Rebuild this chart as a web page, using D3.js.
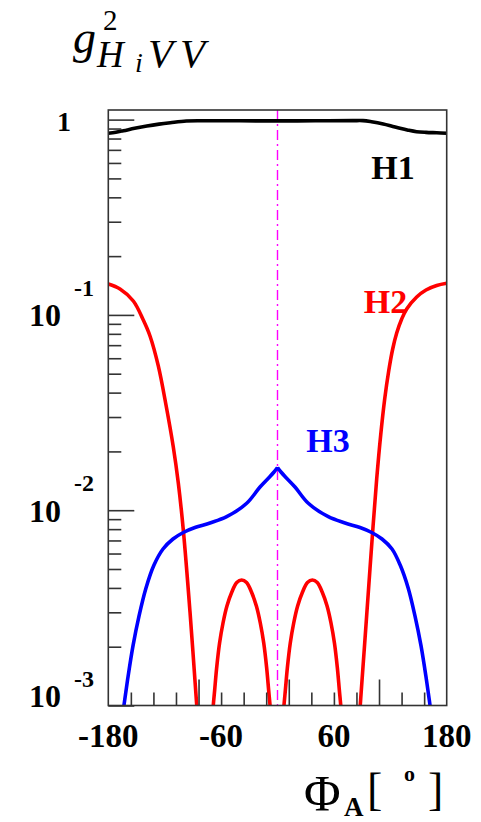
<!DOCTYPE html>
<html>
<head>
<meta charset="utf-8">
<script src="https://cdn.jsdelivr.net/npm/d3@7"></script>
<style>
  html, body { margin: 0; padding: 0; background: #fff; }
  svg { display: block; }
  text { font-family: "Liberation Serif", "Times New Roman", serif; }
</style>
</head>
<body>
<svg id="chart" width="481" height="822"></svg>
<script>
// Squared couplings g^2(Hi VV) versus the CP phase Phi_A (degrees).
// A null entry breaks a curve (zero crossings and the cusp of H3).

// H1 (black)
const phiH1 = [-180, -172, -164, -152, -139, -126, -114, -97, -80, -40, 0, 40, 80, 91, 100, 112.5, 121, 130.3, 139, 148, 158, 169.4, 180];
const gH1   = [0.852, 0.862, 0.877, 0.902, 0.927, 0.948, 0.964, 0.984, 0.987, 0.986, 0.985, 0.986, 0.988, 0.988, 0.975, 0.95, 0.928, 0.903, 0.883, 0.867, 0.86, 0.856, 0.852];

// H2 (red): outer branches and two inner lobes
const phiH2 = [-180, -167.55, -153.4, -142.77, -135.64, -126.81, -118.62, -110.85, -105.53, -100.21, -93.08, -85.96, -84.04, -82.45, null,
               -69.96, -68.29, -66.83, -64.74, -61.62, -57.96, -53.79, -48.57, -43.35, -38.13, -32.91, -27.69, -22.47, -18.3, -14.64, -11.52, -9.43, -7.97, -6.3, null,
               5.25, 6.92, 8.38, 10.47, 13.59, 17.25, 21.42, 26.64, 31.86, 37.08, 42.3, 47.52, 52.74, 56.91, 60.57, 63.69, 65.78, 67.24, 68.91, null,
               84.6, 86.17, 88.51, 92.77, 97.02, 101.28, 105.53, 109.79, 114.04, 118.3, 122.55, 126.81, 132.13, 137.45, 148.08, 157.98, 169.36, 180];
const gH2   = [0.1439, 0.1357, 0.1178, 0.0941, 0.078, 0.0548, 0.03457, 0.02107, 0.01378, 0.00792, 0.003012, 0.001006, 0.000749, 0.000578, null,
               0.000776, 0.001006, 0.0012, 0.001556, 0.002089, 0.002645, 0.003232, 0.003813, 0.004264, 0.004391, 0.004264, 0.003813, 0.003232, 0.002645, 0.002089, 0.001556, 0.0012, 0.001006, 0.000776, null,
               0.000776, 0.001006, 0.0012, 0.001556, 0.002089, 0.002645, 0.003232, 0.003813, 0.004264, 0.004391, 0.004264, 0.003813, 0.003232, 0.002645, 0.002089, 0.001556, 0.0012, 0.001006, 0.000776, null,
               0.000578, 0.000749, 0.00108, 0.002089, 0.004044, 0.00782, 0.01445, 0.02428, 0.0371, 0.0516, 0.0669, 0.0808, 0.0953, 0.1072, 0.1235, 0.1341, 0.1414, 0.1451];

// H3 (blue): two branches meeting in a cusp at Phi_A = 0
const phiH3 = [-169.68, -166.49, -163.3, -159.04, -153.73, -147.34, -139.89, -131.38, -121.81, -111.17, -100.21, -87.77, -71.81, -54.04, -32.77, -18.61, -7.97, -3.7, 0, null,
               0, 3.7, 7.97, 18.61, 32.77, 54.04, 71.81, 87.77, 100.21, 111.17, 121.81, 130.5, 139, 146.3, 152.7, 158, 162.2, 165.4, 168.6];
const gH3   = [0.000592, 0.000776, 0.001006, 0.0014, 0.00202, 0.00287, 0.004, 0.00524, 0.00633, 0.00712, 0.00769, 0.00815, 0.0086, 0.00926, 0.01085, 0.01315, 0.01488, 0.01569, 0.01654, null,
               0.01654, 0.01569, 0.01488, 0.01315, 0.01085, 0.00926, 0.0086, 0.00815, 0.00769, 0.00712, 0.00633, 0.00524, 0.004, 0.00287, 0.00202, 0.0014, 0.001006, 0.000776, 0.000592];

// Axis ticks and labels
const xTickValues  = [-156, -132, -108, -84, -60, -36, -12, 12, 36, 60, 84, 108, 132, 156];
const xLongTicks   = [-84, 12, 108];
const xLabelValues = [-180, -60, 60, 180];
const yMajorTicks  = [1, 0.1, 0.01, 0.001];
const yExponents   = ["", "-1", "-2", "-3"];
const yMinorTicks  = [0.9, 0.8, 0.7, 0.6, 0.5, 0.4, 0.3, 0.2,
                      0.09, 0.08, 0.07, 0.06, 0.05, 0.04, 0.03, 0.02,
                      0.009, 0.008, 0.007, 0.006, 0.005, 0.004, 0.003, 0.002];

const seriesNames  = ["H1", "H2", "H3"];
const seriesColors = ["#000000", "#ff0000", "#0000ff"];

const svg = d3.select("#chart");
const plotLeft = 108.3, plotRight = 446.7, plotTop = 110, plotBottom = 705.5;

const x = d3.scaleLinear().domain([-180, 180]).range([plotLeft, plotRight]);
const y = d3.scaleLog().domain([0.001, 1.12]).range([plotBottom, plotTop]);

svg.append("defs").append("clipPath").attr("id", "plotClip")
  .append("rect").attr("x", plotLeft).attr("y", plotTop)
  .attr("width", plotRight - plotLeft).attr("height", plotBottom - plotTop);

const axisColor = "#333";

// dash-dotted marker at Phi_A = 0
svg.append("line")
  .attr("x1", x(0)).attr("x2", x(0))
  .attr("y1", plotTop).attr("y2", plotBottom)
  .attr("stroke", "#ff00ff").attr("stroke-width", 1.4)
  .attr("stroke-dasharray", "10,4,2,4");

// curves
const line = d3.line()
  .defined(d => d[0] !== null && d[1] !== null)
  .x(d => x(d[0]))
  .y(d => y(d[1]))
  .curve(d3.curveCatmullRom.alpha(0.5));

const series = [
  d3.zip(phiH1, gH1),
  d3.zip(phiH2, gH2),
  d3.zip(phiH3, gH3)
];

const curves = svg.append("g").attr("clip-path", "url(#plotClip)");
series.forEach((s, i) => {
  curves.append("path")
    .datum(s)
    .attr("d", line)
    .attr("fill", "none")
    .attr("stroke", seriesColors[i])
    .attr("stroke-width", 3.6)
    .attr("stroke-linejoin", "round");
});

// frame
svg.append("rect")
  .attr("x", plotLeft).attr("y", plotTop)
  .attr("width", plotRight - plotLeft).attr("height", plotBottom - plotTop)
  .attr("fill", "none").attr("stroke", axisColor).attr("stroke-width", 1.6);

// x ticks (bottom)
const xAxis = d3.axisBottom(x)
  .tickValues(xTickValues)
  .tickSize(0)
  .tickFormat("");
const gx = svg.append("g").attr("transform", `translate(0,${plotBottom})`).call(xAxis);
gx.select(".domain").remove();
gx.selectAll(".tick line")
  .attr("y2", d => xLongTicks.includes(d) ? -26 : -13)
  .attr("stroke", axisColor).attr("stroke-width", 1.6);

svg.selectAll(".xlabel")
  .data(xLabelValues).join("text")
  .attr("class", "xlabel")
  .attr("x", d => x(d))
  .attr("y", 746.5)
  .attr("text-anchor", "middle")
  .attr("font-weight", "bold")
  .attr("font-size", 33)
  .text(d => d);

// y ticks (left, log)
const yAxis = d3.axisLeft(y)
  .tickValues(yMajorTicks.concat(yMinorTicks))
  .tickSize(0)
  .tickFormat("");
const gy = svg.append("g").attr("transform", `translate(${plotLeft},0)`).call(yAxis);
gy.select(".domain").remove();
gy.selectAll(".tick line")
  .attr("x2", d => yMajorTicks.includes(d) ? 26 : 13)
  .attr("stroke", axisColor).attr("stroke-width", 1.6);

yMajorTicks.forEach((v, i) => {
  const ty = y(v);
  const isLowest = i === yMajorTicks.length - 1;
  if (yExponents[i] === "") {
    svg.append("text")
      .attr("x", 64).attr("y", ty + 11.5)
      .attr("text-anchor", "middle")
      .attr("font-weight", "bold").attr("font-size", 28)
      .text(String(v));
  } else {
    svg.append("text")
      .attr("x", 45).attr("y", isLowest ? ty + 1.5 : ty + 11.5)
      .attr("text-anchor", "middle")
      .attr("font-weight", "bold").attr("font-size", 32)
      .text("10");
    svg.append("text")
      .attr("x", 74).attr("y", ty - 19)
      .attr("text-anchor", "start")
      .attr("font-weight", "bold").attr("font-size", 24)
      .text(yExponents[i]);
  }
});

// curve labels
const labelPos = [[393, 179], [385.5, 313], [328, 452]];
seriesNames.forEach((n, i) => {
  svg.append("text")
    .attr("x", labelPos[i][0]).attr("y", labelPos[i][1])
    .attr("text-anchor", "middle")
    .attr("font-weight", "bold").attr("font-size", 34)
    .attr("fill", seriesColors[i])
    .text(n);
});

// y-axis title: g^2_{H_i VV}
const yt = svg.append("g");
yt.append("text").attr("x", 73).attr("y", 53)
  .attr("font-style", "italic").attr("font-size", 46).text("g");
yt.append("text").attr("x", 103).attr("y", 30)
  .attr("font-size", 29).text("2");
yt.append("text").attr("x", 97).attr("y", 66.5)
  .attr("font-style", "italic").attr("font-size", 37).text("H");
yt.append("text").attr("x", 135).attr("y", 72)
  .attr("font-style", "italic").attr("font-size", 28).text("i");
yt.append("text").attr("x", 148).attr("y", 66.5)
  .attr("font-style", "italic").attr("font-size", 41).text("V");
yt.append("text").attr("x", 180).attr("y", 66.5)
  .attr("font-style", "italic").attr("font-size", 41).text("V");

// x-axis title: Phi_A [ o ]
const xt = svg.append("g");
xt.append("text").attr("x", 304).attr("y", 810)
  .attr("font-size", 50).text("Φ");
xt.append("text").attr("x", 344).attr("y", 816)
  .attr("font-weight", "bold").attr("font-size", 27).text("A");
xt.append("text").attr("x", 367).attr("y", 805)
  .attr("font-size", 46).text("[");
xt.append("text").attr("x", 404).attr("y", 781)
  .attr("font-weight", "bold").attr("font-size", 22).text("o");
xt.append("text").attr("x", 428).attr("y", 805)
  .attr("font-size", 46).text("]");
</script>
</body>
</html>
